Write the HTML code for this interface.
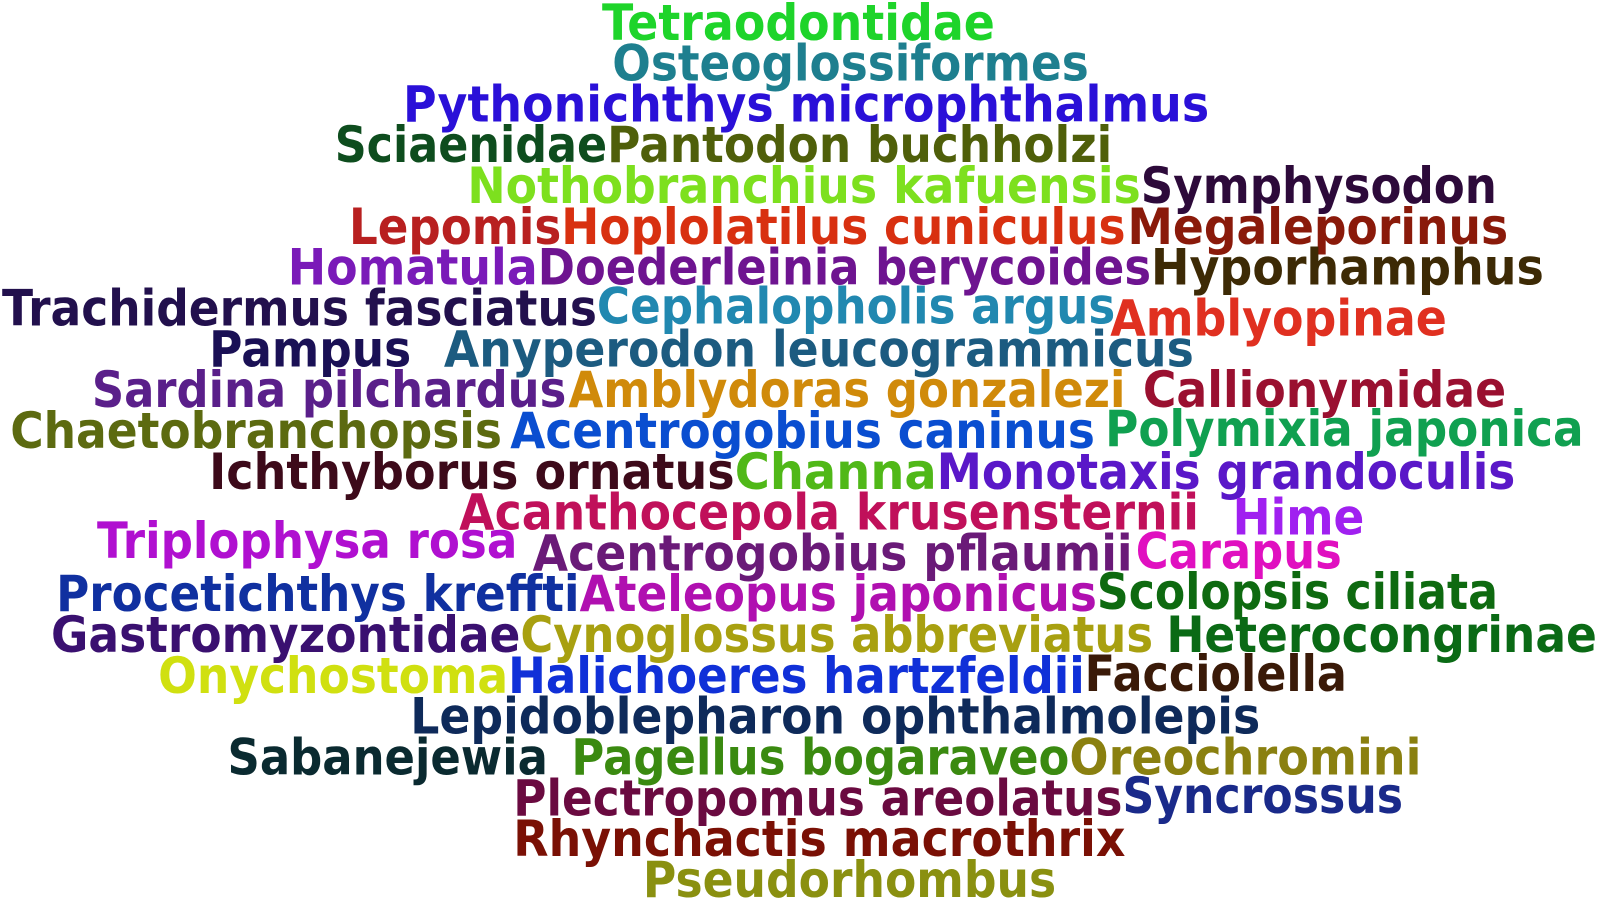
<!DOCTYPE html>
<html><head><meta charset="utf-8"><style>
html,body{margin:0;padding:0;background:#fff;width:1600px;height:900px;overflow:hidden}
svg text{font-family:"DejaVu Sans","Liberation Sans",sans-serif;font-weight:bold;font-size:49px}
</style></head><body>
<svg width="1600" height="900" viewBox="0 0 1600 900" xmlns="http://www.w3.org/2000/svg"><g id="cloud" transform="translate(0,1) scale(1.0204)"></g></svg>
<script>
const words=["Tetraodontidae","Osteoglossiformes","Pythonichthys microphthalmus","Sciaenidae","Pantodon buchholzi","Nothobranchius kafuensis","Symphysodon","Lepomis","Hoplolatilus cuniculus","Megaleporinus","Homatula","Doederleinia berycoides","Hyporhamphus","Trachidermus fasciatus","Cephalopholis argus","Amblyopinae","Pampus","Anyperodon leucogrammicus","Sardina pilchardus","Amblydoras gonzalezi","Callionymidae","Chaetobranchopsis","Acentrogobius caninus","Polymixia japonica","Ichthyborus ornatus","Channa","Monotaxis grandoculis","Acanthocepola krusensternii","Hime","Triplophysa rosa","Acentrogobius pflaumii","Carapus","Procetichthys kreffti","Ateleopus japonicus","Scolopsis ciliata","Gastromyzontidae","Cynoglossus abbreviatus","Heterocongrinae","Onychostoma","Halichoeres hartzfeldii","Facciolella","Lepidoblepharon ophthalmolepis","Sabanejewia","Pagellus bogaraveo","Oreochromini","Plectropomus areolatus","Syncrossus","Rhynchactis macrothrix","Pseudorhombus"];
const xStart=[590,600,395,328,595,458,1118,342,550,1105,282,527,1128,2,585,1088,205,435,90,557,1120,10,500,1083,205,720,918,450,1208,95,522,1113,55,568,1075,50,510,1143,155,498,1063,402,223,560,1048,503,1100,503,630];
const xEnd=[975,1067,1185,595,1090,1118,1467,550,1103,1478,527,1128,1513,585,1093,1418,403,1170,555,1103,1476,492,1073,1552,720,918,1485,1175,1337,507,1110,1315,568,1075,1468,510,1130,1565,498,1063,1320,1235,537,1048,1393,1100,1375,1103,1035];
const baseline=[38,78,118,158,158,198,198,238,238,238,278,278,278,318,316,328,358,358,398,398,398,438,438,436,478,478,478,518,523,546,558,556,598,598,596,638,638,638,678,678,676,718,758,758,758,798,796,838,878];
const colors=["#1ed42a","#1e7f8f","#2a10d8","#0e4d1e","#4f5f0a","#7de01e","#2d0a3a","#b82020","#d83010","#8a1a0a","#7a1ab8","#6e1490","#3d2a05","#22104d","#2188b0","#e03020","#1a1055","#1c5b80","#5a1f8a","#d08a0a","#9a1030","#5c6a10","#0a4ed0","#10a050","#3d0a1a","#50b818","#5a18c8","#c0105a","#a020f0","#b010d0","#6a1a78","#e010c0","#1030a0","#b010b0","#0e6a10","#3a1070","#a8a010","#0a6a15","#d0e010","#1030d8","#3a1a08","#0e2a5a","#0a2a30","#3a8a10","#8a8010","#6a0a40","#1a2a8a","#7a1005","#8a9010"];
const g=document.getElementById('cloud');
for(let i=0;i<words.length;i++){
  const t=document.createElementNS('http://www.w3.org/2000/svg','text');
  t.setAttribute('x',xStart[i]);
  t.setAttribute('y',baseline[i]);
  t.setAttribute('fill',colors[i]);
  t.setAttribute('textLength',xEnd[i]-xStart[i]);
  t.setAttribute('lengthAdjust','spacingAndGlyphs');
  
  
  t.textContent=words[i];
  g.appendChild(t);
}
</script>
</body></html>
